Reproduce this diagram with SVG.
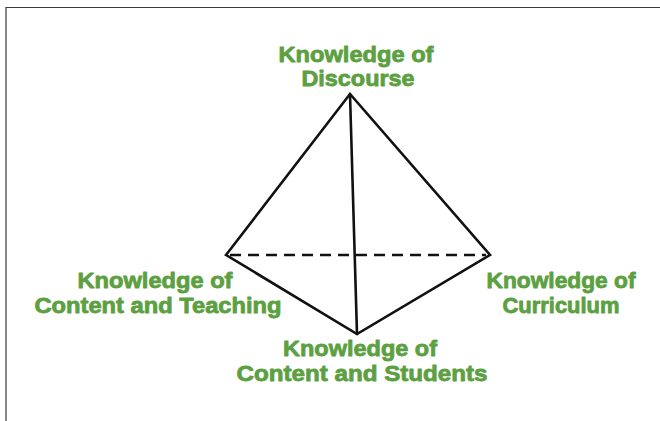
<svg xmlns="http://www.w3.org/2000/svg" width="660" height="421" viewBox="0 0 660 421">
  <style>
    .frame { fill: none; stroke: #3a3a3a; stroke-width: 1.2; }
    .edge { fill: none; stroke: #111; stroke-width: 2.6; stroke-linejoin: miter; stroke-linecap: round; }
    .hidden { fill: none; stroke: #111; stroke-width: 2.6; stroke-dasharray: 11 7; }
    .label { font-family: "Liberation Sans", Arial, sans-serif; font-weight: 700; font-size: 22px; fill: #5ca041; stroke: #5ca041; stroke-width: 0.8; stroke-linejoin: round; text-anchor: middle; }
  </style>
  <rect width="660" height="421" fill="#ffffff"/>
  <!-- frame: top and left rules -->
  <path class="frame" d="M6,421 V7.5 H660"/>

  <!-- tetrahedron edges -->
  <g id="connectors">
    <line class="hidden" x1="230" y1="255" x2="486" y2="255"/>
    <path class="edge" d="M226,255 L350,94 L490,255 L357,334 Z"/>
    <line class="edge" x1="350" y1="94" x2="357" y2="334"/>
  </g>

  <g id="discourse">
    <text class="label" x="356" y="62" textLength="155" lengthAdjust="spacingAndGlyphs">Knowledge of</text>
    <text class="label" x="358" y="86" textLength="113" lengthAdjust="spacingAndGlyphs">Discourse</text>
  </g>
  <g id="content-teaching">
    <text class="label" x="155" y="288" textLength="155" lengthAdjust="spacingAndGlyphs">Knowledge of</text>
    <text class="label" x="158" y="313" textLength="247" lengthAdjust="spacingAndGlyphs">Content and Teaching</text>
  </g>
  <g id="curriculum">
    <text class="label" x="561" y="288" textLength="149" lengthAdjust="spacingAndGlyphs">Knowledge of</text>
    <text class="label" x="561" y="313" textLength="117" lengthAdjust="spacingAndGlyphs">Curriculum</text>
  </g>
  <g id="content-students">
    <text class="label" x="360" y="356" textLength="154" lengthAdjust="spacingAndGlyphs">Knowledge of</text>
    <text class="label" x="362" y="381" textLength="251" lengthAdjust="spacingAndGlyphs">Content and Students</text>
  </g>
</svg>
